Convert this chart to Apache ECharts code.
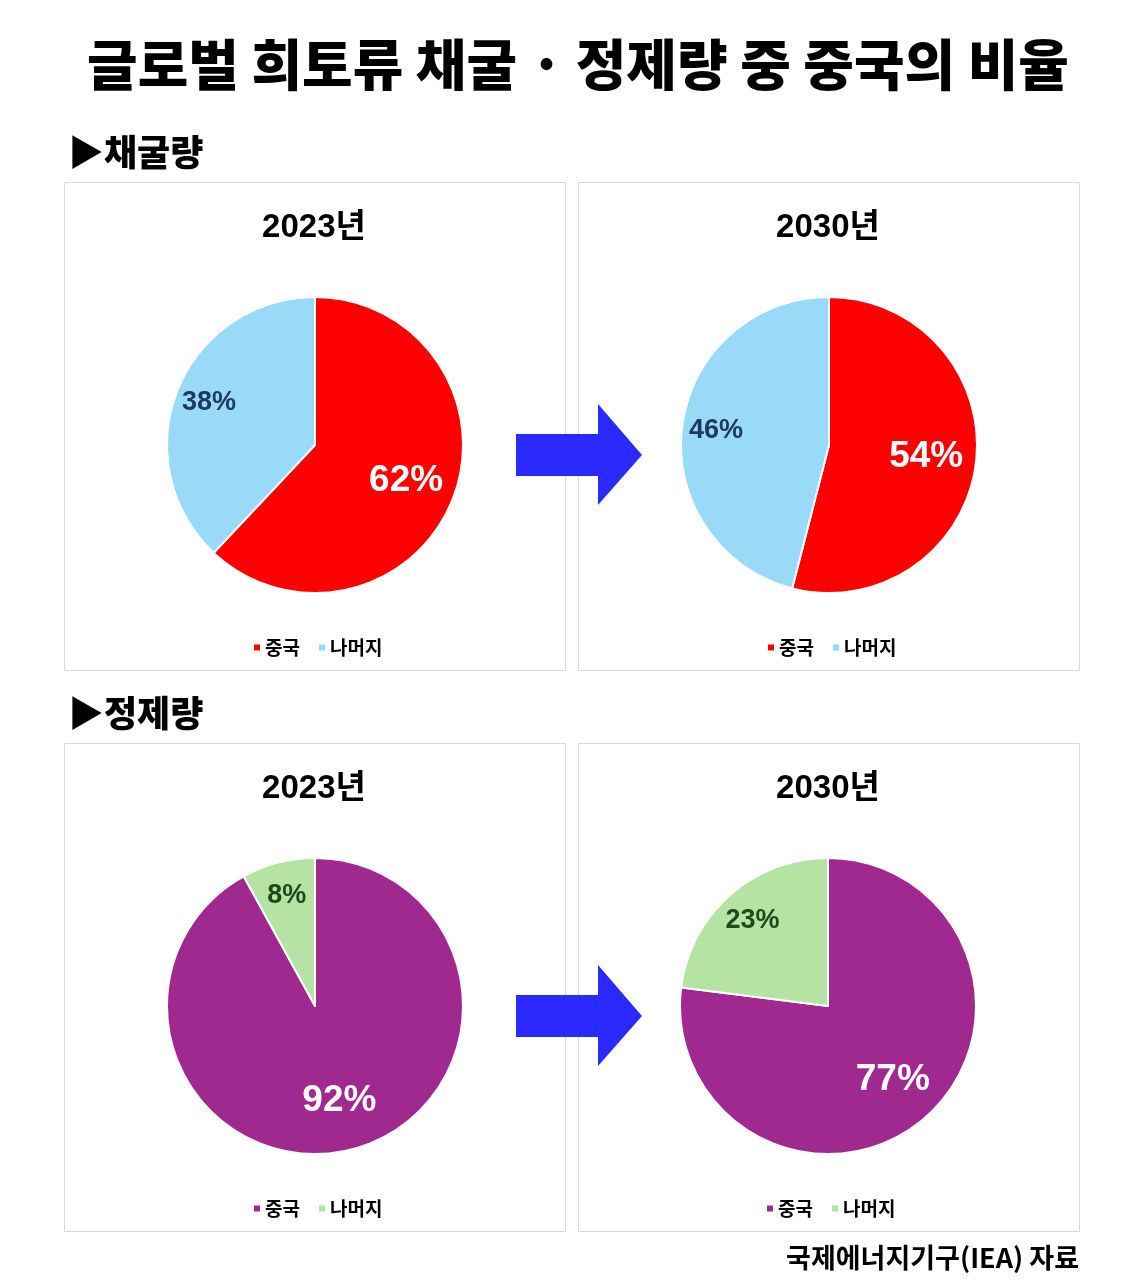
<!DOCTYPE html>
<html>
<head>
<meta charset="utf-8">
<script src="https://cdn.jsdelivr.net/npm/echarts@6/dist/echarts.min.js"></script>
<style>
html,body{margin:0;padding:0;background:#fff;}
#chart{width:1138px;height:1288px;}
</style>
</head>
<body>
<div id="chart"></div>
<script>
const categories = ['중국', '나머지'];
const mining2023 = [62, 38];
const mining2030 = [54, 46];
const refining2023 = [92, 8];
const refining2030 = [77, 23];
const panelTitles = ['2023년', '2030년', '2023년', '2030년'];
const sectionTitles = ['▶채굴량', '▶정제량'];
const mainTitle = '글로벌 희토류 채굴 · 정제량 중 중국의 비율';
const sourceText = '국제에너지기구(IEA) 자료';

const KR = '"Noto Sans CJK KR", "Noto Sans", sans-serif';
const NUM = '"Liberation Sans", Arial, sans-serif';
const MIX = '"Liberation Sans", "Noto Sans CJK KR", sans-serif';

const miningColors = ['#FF0000', '#99DAF8'];
const refiningColors = ['#A0298F', '#B4E3A3'];
const otherLabelColors = { mining: '#1F3864', refining: '#1C4A1C' };

const panels = [
  { vals: mining2023, colors: miningColors, other: otherLabelColors.mining, cx: 315, cy: 445, box: [64, 182], title: panelTitles[0] },
  { vals: mining2030, colors: miningColors, other: otherLabelColors.mining, cx: 829, cy: 445, box: [578, 182], title: panelTitles[1] },
  { vals: refining2023, colors: refiningColors, other: otherLabelColors.refining, cx: 315, cy: 1006, box: [64, 743], title: panelTitles[2] },
  { vals: refining2030, colors: refiningColors, other: otherLabelColors.refining, cx: 828, cy: 1006, box: [578, 743], title: panelTitles[3] }
];
const R = 148;

const series = [];
const legends = [];
const graphics = [];

function labelSeries(p, inner, showIdx, labelStyle) {
  return {
    type: 'pie',
    center: [p.cx, p.cy],
    radius: [inner, R],
    startAngle: 90,
    clockwise: true,
    animation: false,
    silent: true,
    z: 3,
    itemStyle: { color: 'rgba(0,0,0,0)', borderWidth: 0 },
    labelLine: { show: false },
    data: categories.map((c, k) => ({
      name: c,
      value: p.vals[k],
      label: k === showIdx
        ? Object.assign({ show: true, position: 'inside', formatter: '{c}%', fontWeight: 'bold', fontFamily: NUM }, labelStyle)
        : { show: false }
    }))
  };
}

panels.forEach((p, i) => {
  series.push({
    type: 'pie',
    center: [p.cx, p.cy],
    radius: R,
    startAngle: 90,
    clockwise: true,
    animation: false,
    silent: true,
    label: { show: false },
    labelLine: { show: false },
    itemStyle: { borderColor: '#fff', borderWidth: 2 },
    data: categories.map((c, k) => ({ name: c, value: p.vals[k], itemStyle: { color: p.colors[k] } }))
  });
  series.push(labelSeries(p, 42, 0, { color: '#fff', fontSize: 37 }));
  series.push(labelSeries(p, 74, 1, { color: p.other, fontSize: 27 }));
  legends.push({
    left: p.cx - 68,
    top: p.box[1] + 451,
    icon: 'rect',
    itemWidth: 8,
    itemHeight: 8,
    itemGap: 17,
    selectedMode: false,
    textStyle: { fontFamily: KR, fontSize: 19, fontWeight: 'bold', color: '#000', padding: [0, 0, 0, -1] },
    data: categories.map((c, k) => ({ name: c, itemStyle: { color: p.colors[k] } }))
  });
  graphics.push({
    type: 'rect', z: 0,
    shape: { x: p.box[0] + 0.5, y: p.box[1] + 0.5, width: 501, height: 488 },
    style: { fill: '#fff', stroke: '#D9D9D9', lineWidth: 1 }
  });
  graphics.push({
    type: 'text', z: 5,
    x: p.box[0] + 250, y: p.box[1] + 46,
    style: { text: p.title, fontFamily: MIX, fontSize: 33, fontWeight: 'bold', fill: '#000', align: 'center', verticalAlign: 'middle' }
  });
});

// arrows
[455, 1016].forEach(yc => {
  graphics.push({
    type: 'polygon', z: 10,
    shape: { points: [[516, yc - 21], [598, yc - 21], [598, yc - 51], [642, yc], [598, yc + 50], [598, yc + 21], [516, yc + 21]] },
    style: { fill: '#2A2AFF' }
  });
});

graphics.push({
  type: 'text', z: 5, x: 578, y: 64,
  style: { text: mainTitle, fontFamily: KR, fontSize: 55, fontWeight: 900, fill: '#000', align: 'center', verticalAlign: 'middle' }
});
graphics.push({
  type: 'text', z: 5, x: 68, y: 152,
  style: { text: sectionTitles[0], fontFamily: KR, fontSize: 36, fontWeight: 900, fill: '#000', align: 'left', verticalAlign: 'middle' }
});
graphics.push({
  type: 'text', z: 5, x: 68, y: 713,
  style: { text: sectionTitles[1], fontFamily: KR, fontSize: 36, fontWeight: 900, fill: '#000', align: 'left', verticalAlign: 'middle' }
});
graphics.push({
  type: 'text', z: 5, x: 1079, y: 1258,
  style: { text: sourceText, fontFamily: KR, fontSize: 27, fontWeight: 'bold', fill: '#000', align: 'right', verticalAlign: 'middle' }
});

const chart = echarts.init(document.getElementById('chart'), null, { renderer: 'canvas' });
chart.setOption({
  backgroundColor: '#fff',
  animation: false,
  legend: legends,
  graphic: { elements: graphics },
  series: series
});
</script>
</body>
</html>
